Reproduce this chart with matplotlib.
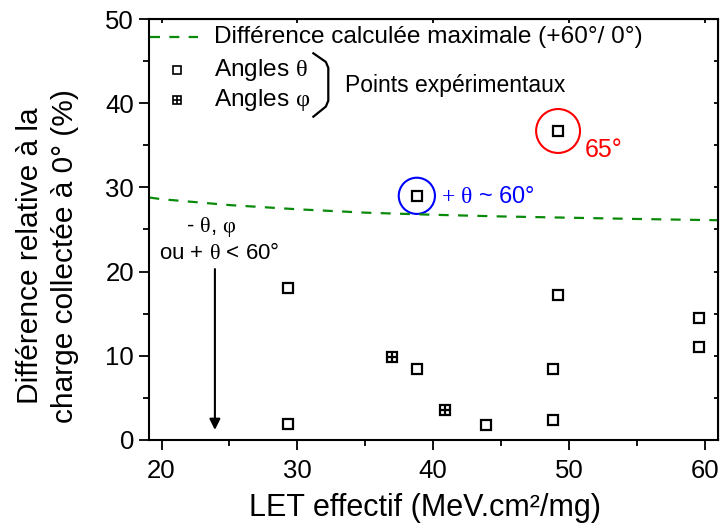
import numpy as np
import matplotlib
matplotlib.use('Agg')
import matplotlib.pyplot as plt
from matplotlib.ticker import MultipleLocator

plt.rcParams['font.family'] = ['Liberation Sans', 'DejaVu Sans']
plt.rcParams['mathtext.fontset'] = 'custom'
plt.rcParams['mathtext.rm'] = 'Liberation Serif'
plt.rcParams['mathtext.it'] = 'Liberation Serif'

# data
theta_let = [29.3, 29.3, 38.8, 38.8, 43.9, 48.8, 48.8, 49.2, 49.2, 59.6, 59.6]
theta_diff = [18.1, 1.9, 8.4, 29.0, 1.8, 8.4, 2.4, 17.2, 36.7, 14.5, 11.1]
phi_let = [37.0, 40.9]
phi_diff = [9.8, 3.6]
curve_let = [19.1, 20, 25, 30, 35, 40, 45, 50, 55, 61]
curve_diff = [28.8, 28.6, 27.9, 27.4, 27.0, 26.75, 26.55, 26.4, 26.25, 26.1]

fig = plt.figure(figsize=(7.22, 5.28), dpi=100)
ax = fig.add_axes([0.2068, 0.1667, 0.7881, 0.7973])

ax.plot(curve_let, curve_diff, color='#0a8a0a', lw=1.6, dashes=(4.5, 4.2))
ax.plot(theta_let, theta_diff, 's', ms=7.5, mfc='white', mec='black', mew=1.6, ls='none')
ax.plot(phi_let, phi_diff, 's', ms=7.5, mfc='white', mec='black', mew=1.6, ls='none')
ax.plot(phi_let, phi_diff, '+', ms=7.5, mec='black', mew=1.6, ls='none')

# highlight circles
ax.scatter([theta_let[8]], [theta_diff[8]], s=1000, facecolors='none', edgecolors='red', lw=1.5)
ax.scatter([theta_let[3]], [theta_diff[3]], s=680, facecolors='none', edgecolors='blue', lw=1.5)
ax.text(51.2, 34.4, '65°', color='red', fontsize=18, va='center')
ax.text(40.6, 28.9, r'$+\ \theta$ ~ 60°', color='blue', fontsize=17, va='center')

# arrow + label
ax.annotate('', xy=(23.93, 1.2), xytext=(23.93, 20.3),
            arrowprops=dict(arrowstyle='-|>', color='black', lw=1.5,
                            mutation_scale=16, shrinkA=0, shrinkB=0))
ax.text(21.8, 25.3, r'- $\theta$, $\varphi$', fontsize=16, va='center')
ax.text(19.85, 22.2, r'ou + $\theta$ < 60°', fontsize=16, va='center')

# legend drawn by hand
ax.plot([19.14, 22.68], [47.9, 47.9], color='#0a8a0a', lw=1.6, dashes=(4.5, 4.2))
ax.text(23.86, 47.9, 'Différence calculée maximale (+60°/ 0°)', fontsize=17.6, va='center')
ax.plot([21.13], [43.94], 's', ms=5.5, mfc='white', mec='black', mew=1.2)
ax.text(23.86, 43.94, r'Angles $\theta$', fontsize=17.6, va='center')
ax.plot([21.13], [40.38], 's', ms=5.5, mfc='white', mec='black', mew=1.2)
ax.plot([21.13], [40.38], '+', ms=5.5, mec='black', mew=1.2)
ax.text(23.86, 40.38, r'Angles $\varphi$', fontsize=17.6, va='center')
ax.plot([31.18, 32.1, 32.28, 32.28, 32.1, 31.18],
        [45.93, 44.9, 44.2, 40.3, 39.6, 38.40], color='black', lw=1.6)
ax.text(33.5, 42.16, 'Points expérimentaux', fontsize=16.5, va='center')

ax.set_xlim(19.1, 61.0)
ax.set_ylim(0, 50)
ax.xaxis.set_major_locator(MultipleLocator(10))
ax.xaxis.set_minor_locator(MultipleLocator(5))
ax.yaxis.set_major_locator(MultipleLocator(10))
ax.yaxis.set_minor_locator(MultipleLocator(5))
ax.tick_params(which='major', direction='out', length=7, width=1.3, labelsize=18.5, pad=4)
ax.tick_params(which='minor', direction='out', length=4, width=1.3)
ax.tick_params(axis='x', which='major', pad=7)
for s in ax.spines.values():
    s.set_linewidth(1.5)

top = ax.secondary_xaxis('top')
top.xaxis.set_major_locator(MultipleLocator(10))
top.tick_params(direction='in', length=3, width=1.3, labeltop=False)
right = ax.secondary_yaxis('right')
right.yaxis.set_major_locator(MultipleLocator(10))
right.yaxis.set_minor_locator(MultipleLocator(5))
right.tick_params(which='both', direction='in', length=3, width=1.3, labelright=False)

ax.set_xlabel('LET effectif (MeV.cm²/mg)', fontsize=22, labelpad=7)
ax.xaxis.label.set_x(0.485)
fig.text(47.5 / 722, 1 - 256 / 528, 'Différence relative à la\ncharge collectée à 0° (%)',
         fontsize=21.5, rotation=90, ha='center', va='center', multialignment='center',
         linespacing=1.3)

fig.savefig('out.png', dpi=100)
